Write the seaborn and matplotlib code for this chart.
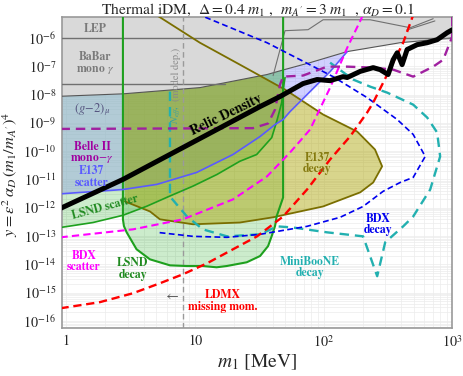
import numpy as np
import matplotlib
matplotlib.use("Agg")
import matplotlib.pyplot as plt
import seaborn as sns
from matplotlib.ticker import FixedLocator, FuncFormatter, LogLocator, NullFormatter

# ---------------- data (m1 in MeV, y dimensionless) ----------------
babar_m = [0.9, 2.75, 10.9, 36.2, 48.3, 78.2, 152, 392, 1000]
babar_y = [8.7e-9, 1.06e-8, 1.76e-8, 5.1e-8, 7.4e-8, 1.34e-7, 3.3e-7, 6.8e-7, 1.0e-6]
babar_old_m = [0.9, 17.0]
babar_old_y = [2.4e-8, 2.4e-8]
lep_y = 1e-6
lep_edge_m = [40.4, 50.0, 75.5, 98.8, 229, 469, 708]
lep_edge_y = [4.7e-8, 1.81e-6, 1.96e-6, 4.4e-6, 4.4e-6, 2.3e-6, 4.8e-6]
lep_edge2_m = [440, 730]
lep_edge2_y = [1.9e-6, 4.0e-6]

e137s_m = [0.9, 2.75, 5.06, 10.3, 19.7, 32.0, 41.8, 48.3, 54.7, 81.1, 112, 152]
e137s_y = [3.1e-12, 4.4e-12, 6.7e-12, 1.77e-11, 7.6e-11, 3.3e-10, 8.7e-10, 1.31e-9, 2.5e-9, 1.5e-8, 6.5e-8, 3.3e-7]

lsnds_m = [0.9, 1.61, 2.75, 4.23, 6.38, 9.63, 14.8, 22.3, 30.1, 39.4, 43.1, 47.1, 48.3, 50.0]
lsnds_y = [2.0e-13, 3.0e-13, 5.4e-13, 1.14e-12, 2.6e-12, 5.8e-12, 1.5e-11, 4.4e-11, 7.6e-11, 3.0e-10, 1.14e-9, 5.2e-9, 1.5e-8, 4.0e-8]

lsndd_m = [2.75, 2.75, 2.80, 2.94, 3.51, 4.46, 6.38, 8.60, 11.5, 14.7, 17.6, 25.2, 32.0, 36.9, 39.4, 41.8, 43.1, 48.3, 48.3]
lsndd_y = [7e-6, 3.9e-13, 2.25e-13, 1.35e-13, 3.4e-14, 1.5e-14, 9.2e-15, 8.7e-15, 8.7e-15, 7.85e-15, 8.7e-15, 1.18e-14, 1.97e-14, 4.4e-14, 1.0e-13, 2.25e-13, 5.1e-13, 2.3e-12, 7e-6]

e137d_m = [2.75, 5.0, 10.9, 22.3, 50.0, 98.8, 182, 250, 284, 242, 192, 98.8, 40.4, 22.3, 9.63, 5.33, 4.46, 2.85]
e137d_y = [7e-6, 6.5e-6, 6.8e-7, 1.14e-7, 1.5e-8, 1.97e-9, 4.9e-10, 1.14e-10, 2.9e-11, 7.8e-12, 3.5e-12, 1.11e-12, 4.6e-13, 3.0e-13, 2.6e-13, 3.9e-13, 7.4e-13, 1.67e-12]

belle_m = [0.9, 28.2, 36.9, 41.8, 45.7, 48.3, 69.0, 106, 152, 242, 346, 495, 708, 847, 995, 995]
belle_y = [6.1e-10, 6.5e-10, 9.5e-10, 2.95e-9, 2.25e-8, 4.3e-8, 4.7e-8, 9.7e-8, 9.7e-8, 8.95e-8, 7.6e-8, 4.3e-8, 9.7e-8, 1.7e-7, 1.11e-6, 7e-6]

relic_m = [0.9, 2.75, 32.0, 45.7, 69.0, 88.7, 112, 141, 152, 192, 242, 274, 316, 346, 372, 406, 444, 532, 636, 760, 910, 1000]
relic_y = [9.5e-13, 1.0e-11, 3.77e-9, 8.5e-9, 2.44e-8, 3.4e-8, 3.1e-8, 4.3e-8, 4.0e-8, 6.6e-8, 8.95e-8, 7.6e-8, 5.1e-8, 1.7e-7, 3.0e-7, 1.14e-7, 3.9e-7, 5.8e-7, 6.8e-7, 8.7e-7, 1.54e-6, 1.96e-6]

bdxs_m = [0.9, 3.29, 8.05, 19.7, 36.2, 54.7, 78.2, 112, 152, 202]
bdxs_y = [9.0e-14, 1.72e-13, 3.9e-13, 1.97e-12, 1.28e-11, 9.0e-11, 5.8e-10, 1.76e-8, 4.5e-7, 6.5e-6]

ldmx_m = [0.9, 1.82, 3.29, 5.33, 8.05, 12.4, 19.7, 30.3, 48.3, 74.1, 112, 160, 217, 242, 311, 414, 495]
ldmx_y = [2.8e-16, 4.6e-16, 9.5e-16, 2.14e-15, 4.45e-15, 1.09e-14, 3.4e-14, 9.75e-14, 4.9e-13, 4.4e-12, 5.1e-11, 3.3e-10, 2.3e-9, 5.2e-9, 5.1e-8, 6.8e-7, 6.5e-6]

bdxd_m = [10.3, 36.2, 118, 217, 372, 495, 614, 495, 392, 289, 202, 134, 74.1, 32.0, 17.7, 9.63, 5.06]
bdxd_y = [7.2e-6, 6.8e-7, 4.3e-8, 7.8e-9, 1.31e-9, 3.9e-10, 6.5e-11, 1.18e-11, 7.8e-12, 3.8e-12, 1.11e-12, 4.6e-13, 2.2e-13, 1.15e-13, 9.0e-14, 9.75e-14, 1.35e-13]

mb_m = [6.38, 6.38, 8.65, 11.5, 17.7, 32.0, 43.3, 57.7, 106, 202, 260, 300, 414, 495, 671, 802, 760, 636, 495, 311, 229, 169, 112]
mb_y = [1.27e-8, 2.5e-12, 4.9e-13, 1.72e-13, 9.75e-14, 1.15e-13, 2.2e-13, 2.0e-13, 1.35e-13, 9.75e-14, 3.8e-15, 6.0e-14, 2.2e-13, 4.9e-13, 4.4e-12, 6.5e-11, 4.55e-10, 1.54e-9, 4.4e-9, 1.17e-8, 1.91e-8, 3.4e-8, 1.34e-7]

neff_m = 8.05
x_ticks = [1, 10, 100, 1000]
x_tick_labels = ["1", "10", r"$10^2$", r"$10^3$"]
y_ticks = [10.0 ** k for k in range(-16, -5)]

# ---------------- style ----------------
sns.set_theme(style="white")
plt.rcParams['font.family'] = ['STIXGeneral', 'DejaVu Serif']
plt.rcParams['mathtext.fontset'] = 'stix'

fig = plt.figure(figsize=(4.63, 3.76), dpi=100)
ax = fig.add_axes([0.1346, 0.1277, 0.8427, 0.8279])
ax.set_xscale('log')
ax.set_yscale('log')
XMIN, XMAX = 0.93, 1000
YMIN, YMAX = 10 ** -16.25, 10 ** -5.248
ax.set_xlim(XMIN, XMAX)
ax.set_ylim(YMIN, YMAX)
ax.set_facecolor('white')
ax.set_axisbelow(True)

A = np.asarray
def cat(*arrs):
    return np.concatenate([A(a, dtype=float) for a in arrs])

def line(x, y, **kw):
    sns.lineplot(x=A(x, dtype=float), y=A(y, dtype=float), sort=False, estimator=None, ax=ax, **kw)

bm, by = A(babar_m, float), A(babar_y, float)
em, ey = A(e137s_m, float), A(e137s_y, float)

# ---- fills ----
k = bm <= 152
ax.fill(cat(em, bm[k][::-1]), cat(ey, by[k][::-1]), color='#6464ff', alpha=0.3, lw=0, zorder=1)
kb = bm <= 48.3
ke = em <= 48.3
ax.fill(cat(em[ke], bm[kb][::-1]), cat(ey[ke], by[kb][::-1]), color='#96c8af', alpha=0.5, lw=0, zorder=1.1)
ax.fill(cat(lsnds_m, em[ke][::-1]), cat(lsnds_y, ey[ke][::-1]), color='#00a000', alpha=0.2, lw=0, zorder=1.2)
ax.fill(lsndd_m, lsndd_y, color='#00a000', alpha=0.2, lw=0, zorder=1.3)
ax.fill(e137d_m, e137d_y, color='#aaa200', alpha=0.45, lw=0, zorder=1.4)
# gray (LEP + BaBar)
ax.fill(cat(bm, [1000, 0.9]), cat(by, [1e-5, 1e-5]), color='#d9d9d9', lw=0, zorder=2)

# ---- lines ----
line(bm, by, color='#555555', lw=0.8, zorder=3)
line(babar_old_m, babar_old_y, color='#707070', lw=1.0, zorder=3)
line([0.9, 1000], [lep_y, lep_y], color='#707070', lw=1.0, zorder=3)
line(lep_edge_m, lep_edge_y, color='#707070', lw=0.8, zorder=3)
line(lep_edge2_m, lep_edge2_y, color='#707070', lw=0.8, zorder=3)

ax.axvline(neff_m, color='#9a9a9a', ls=(0, (4, 2.5)), lw=1.0, zorder=3)

line(e137d_m[1:], e137d_y[1:], color='#7a6e00', lw=1.3, zorder=4)
line(lsndd_m, lsndd_y, color='#1ea01e', lw=1.5, zorder=4)
line(lsnds_m, lsnds_y, color='#1ea01e', lw=1.2, zorder=4)
line(em, ey, color='#5a5aff', lw=1.2, zorder=4)
line(mb_m, mb_y, color='#22b0b0', lw=1.7, linestyle=(0, (4, 2.5)), zorder=5)
line(bdxd_m, bdxd_y, color='#0000ee', lw=1.2, linestyle=(0, (3.5, 2)), zorder=5)
line(bdxs_m, bdxs_y, color='#ff00ff', lw=1.5, linestyle=(0, (3.5, 2)), zorder=5)
line(belle_m, belle_y, color='#a020a0', lw=1.7, linestyle=(0, (4, 2.5)), zorder=5)
line(ldmx_m, ldmx_y, color='#ff0000', lw=1.7, linestyle=(0, (3.5, 2)), zorder=6)
line(relic_m, relic_y, color='black', lw=3.6, zorder=7)

# ---- labels ----
def lab(x, y, s, c, **kw):
    d = dict(ha='center', va='center', fontsize=8.5, fontweight='bold', color=c, zorder=8, linespacing=0.95)
    d.update(kw)
    ax.text(x, y, s, **d)

lab(1.67, 2.1e-6, "LEP", '#7a7a7a')
lab(1.67, 1.24e-7, "BaBar\nmono $\\gamma$", '#7a7a7a')
lab(1.58, 2.95e-9, r"$(g\!-\!2)_\mu$", '#55557f', fontweight='normal', fontsize=9)
lab(1.58, 8.6e-11, "Belle II\nmono$-\\gamma$", '#a000a0')
lab(1.58, 1.22e-11, "E137\nscatter", '#5a5aff')
lab(1.99, 1.03e-12, "LSND scatter", '#208a20', rotation=15, rotation_mode='anchor')
lab(1.37, 1.28e-14, "BDX\nscatter", '#ff00ff')
lab(3.29, 6.7e-15, "LSND\ndecay", '#208a20')
lab(16.5, 4.95e-16, "LDMX\nmissing mom.", '#ff0000')
lab(78.2, 7.85e-15, "MiniBooNE\ndecay", '#22b0b0')
lab(264, 2.6e-13, "BDX\ndecay", '#0000ee')
lab(88.7, 3.67e-11, "E137\ndecay", '#857a10')
lab(17.5, 1.9e-9, "Relic Density", 'black', fontsize=10, rotation=26, rotation_mode='anchor')
lab(7.15, 5.3e-8, "(model dep.)", '#8a8a8a', fontweight='normal', fontsize=7.5, rotation=90)
lab(7.15, 1.9e-9, r"$N_{eff}$,", '#3aa0a0', fontweight='normal', fontsize=7.5, rotation=90)
lab(6.6, 7.5e-16, "\u2190", '#555555', fontweight='normal', fontsize=10)

# ---- axes ----
ax.xaxis.set_major_locator(FixedLocator(x_ticks))
ax.xaxis.set_major_formatter(FuncFormatter(lambda v, p: x_tick_labels[x_ticks.index(int(round(v)))] if int(round(v)) in x_ticks else ""))
ax.xaxis.set_minor_locator(LogLocator(base=10, subs=np.arange(2, 10), numticks=100))
ax.xaxis.set_minor_formatter(NullFormatter())
ax.yaxis.set_major_locator(FixedLocator(y_ticks))
ax.yaxis.set_major_formatter(FuncFormatter(lambda v, p: r"$10^{%d}$" % int(round(np.log10(v)))))
ax.yaxis.set_minor_locator(LogLocator(base=10, subs=np.arange(2, 10), numticks=100))
ax.yaxis.set_minor_formatter(NullFormatter())
ax.tick_params(which='major', direction='out', length=3, width=0.8, color='#666666', labelsize=10.2, pad=1.5)
ax.tick_params(which='minor', length=0)
ax.grid(which='both', color='#ececec', lw=0.5, zorder=0)
for s in ax.spines.values():
    s.set_color('#999999')
    s.set_linewidth(1.2)

ax.set_xlabel(r"$m_1$ [MeV]", fontsize=14, labelpad=2)
ax.set_ylabel(r"$y = \epsilon^2\,\alpha_D\,(m_1/m_{A'})^4$", fontsize=11.8)
ax.yaxis.set_label_coords(-0.108, 0.495)
ax.set_title(r"Thermal iDM,  $\Delta = 0.4\ m_1$ ,  $m_{A'} = 3\ m_1$  , $\alpha_D = 0.1$", fontsize=11.2, pad=2)

fig.savefig("out.png", dpi=100)
